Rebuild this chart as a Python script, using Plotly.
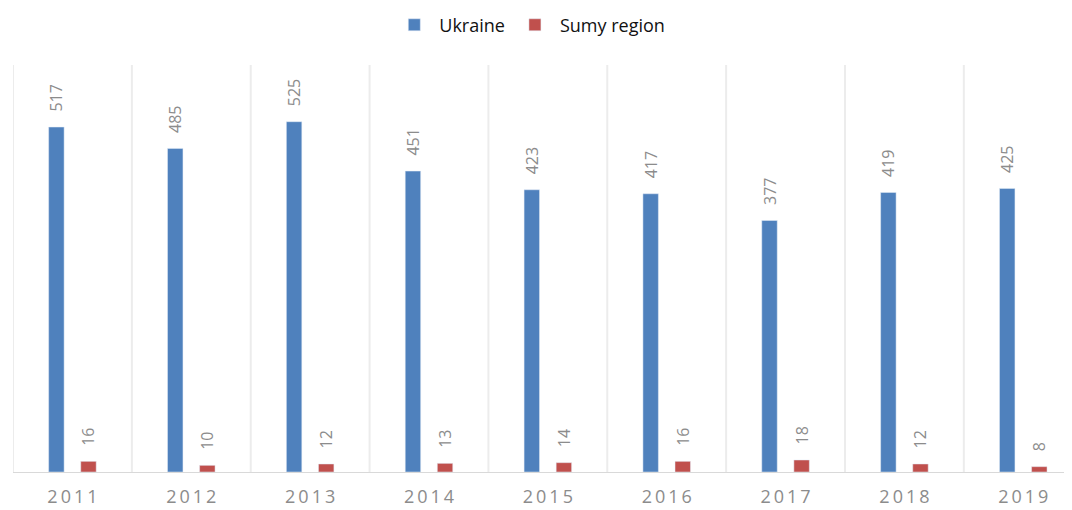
import plotly.graph_objects as go

years = ["2011", "2012", "2013", "2014", "2015", "2016", "2017", "2018", "2019"]
ukraine = [517, 485, 525, 451, 423, 417, 377, 419, 425]
sumy = [16, 10, 12, 13, 14, 16, 18, 12, 8]

blue = "#4f81bd"
red = "#c0504d"
label_color = "#8c8c8c"
pad = "\u00a0\u00a0\u00a0"

xs = list(range(len(years)))

fig = go.Figure()
fig.add_trace(go.Bar(
    x=xs, y=ukraine, name="Ukraine", marker_color=blue,
    width=0.13, offset=-0.2,
    text=[pad + str(v) for v in ukraine], textposition="outside", textangle=-90,
    constraintext="none", cliponaxis=False,
    textfont=dict(family="Open Sans", size=16, color=label_color),
))
fig.add_trace(go.Bar(
    x=xs, y=sumy, name="Sumy region", marker_color=red,
    width=0.13, offset=0.07,
    text=[pad + str(v) for v in sumy], textposition="outside", textangle=-90,
    constraintext="none", cliponaxis=False,
    textfont=dict(family="Open Sans", size=16, color=label_color),
))

shapes = []
for i in range(len(years) + 1):
    shapes.append(dict(type="line", xref="x", yref="paper", x0=i - 0.5, x1=i - 0.5,
                       y0=0, y1=1, line=dict(color="#ececec", width=2), layer="below"))

spaced = ["\u2009".join(list(y)) for y in years]

# page body adds an 8px offset, so the figure is sized to fill the remaining window
fig.update_layout(
    width=1064, height=502,
    margin=dict(l=5, r=0, t=57, b=38),
    paper_bgcolor="white", plot_bgcolor="white",
    barmode="group",
    showlegend=True,
    legend=dict(orientation="h", x=0.488, xanchor="center", y=0.966, yanchor="middle",
                yref="container", font=dict(family="Open Sans", size=18, color="#111111"),
                itemwidth=40, traceorder="normal"),
    shapes=shapes,
    xaxis=dict(range=[-0.5, 8.41], tickmode="array", tickvals=xs, ticktext=spaced,
               showgrid=False, zeroline=False, showline=True, linecolor="#d9d9d9", linewidth=1,
               ticks="outside", ticklen=8, tickcolor="rgba(0,0,0,0)",
               tickfont=dict(family="Open Sans", size=18, color=label_color)),
    yaxis=dict(range=[0, 610], visible=False, showgrid=False, zeroline=False),
)

fig.write_html("out.html")
